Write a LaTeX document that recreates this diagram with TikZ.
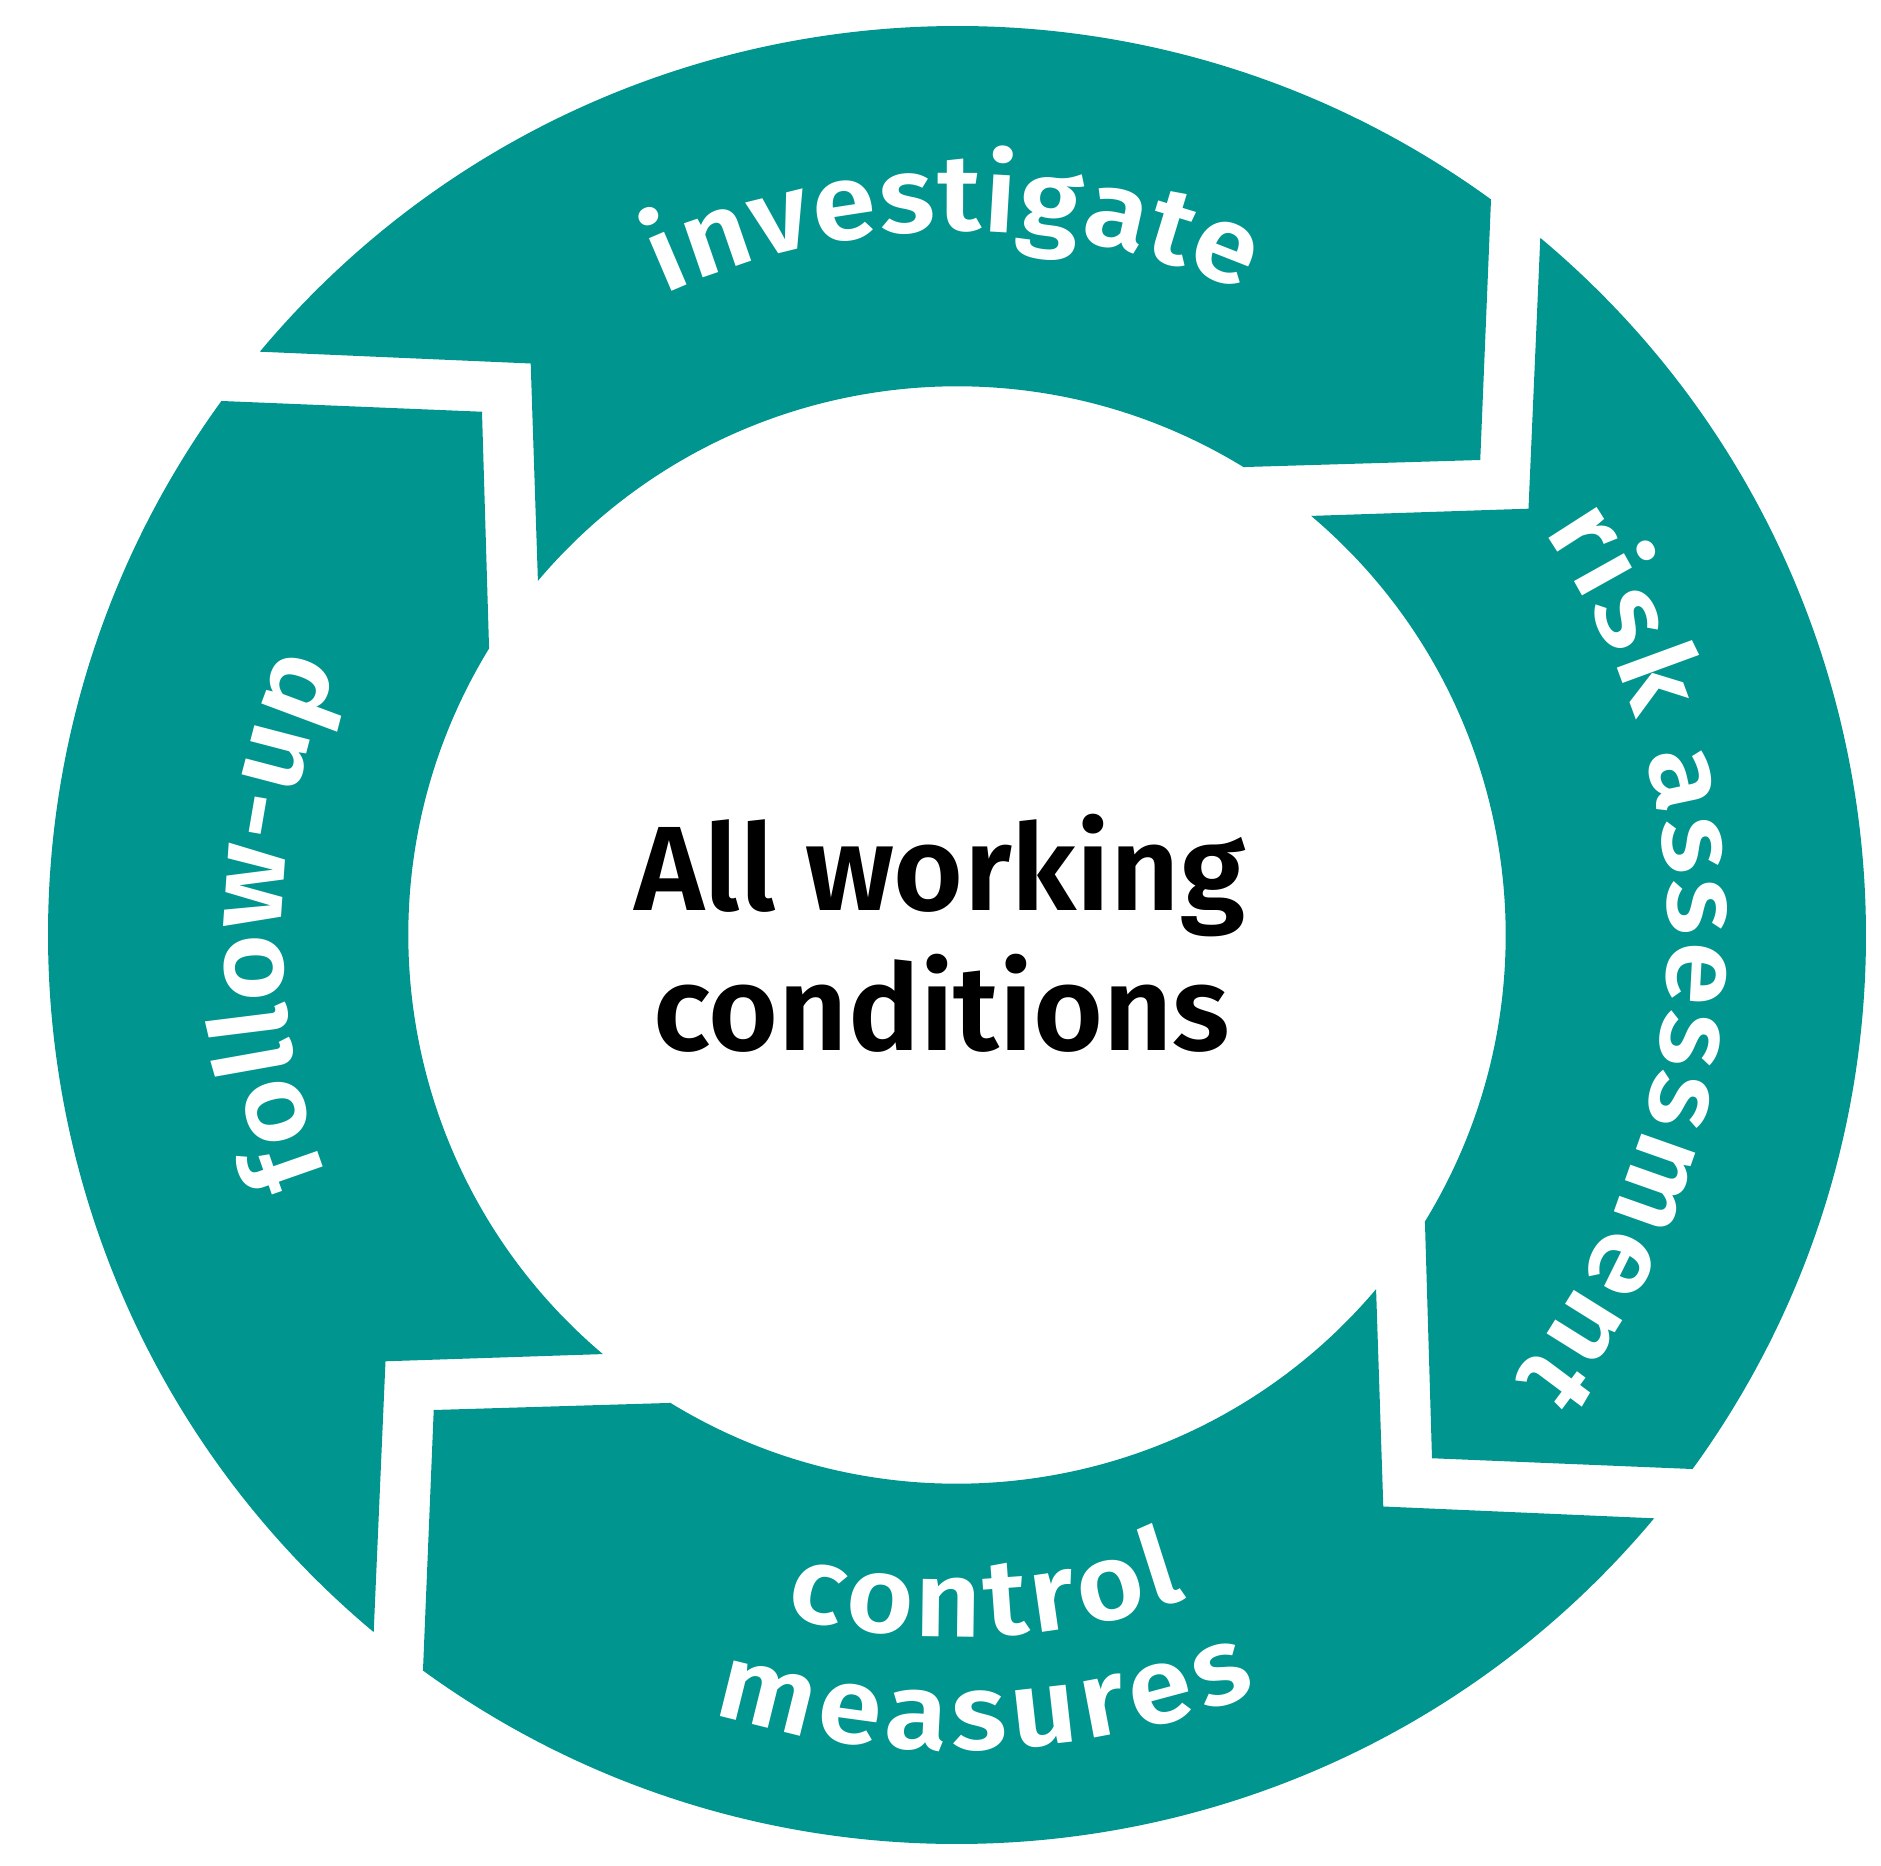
\documentclass[tikz,border=0pt]{standalone}
\usepackage{fontspec}
\usetikzlibrary{decorations.text}
\newfontfamily\ringface{Fira Sans SemiBold}[FakeStretch=1.07, Ligatures=NoCommon]
\newfontfamily\centerface{Fira Sans SemiBold}[Ligatures=NoCommon]
\definecolor{ringteal}{RGB}{0,150,143}
\newcommand\ringfont{\ringface\fontsize{108}{108}\selectfont}
\newcommand\centerfont{\centerface\fontsize{120}{120}\selectfont}
\begin{document}
\begin{tikzpicture}[x=1pt,y=1pt,
  seg/.style={fill=ringteal},
  ringtext/.style={decorate, decoration={text along path, text align={fit to path}, text color=white, text={#1}}},
  ctext/.style={font=\centerfont, text=black, inner sep=0pt, anchor=base}]
\useasboundingbox (-957,-930) rectangle (924,935);
% four ring segments (rotated copies)
\foreach \r in {0,-90,-180,-270}{
  \begin{scope}[rotate=\r]
    \fill[seg] (140.08:909pt) arc[start angle=140.08, end angle=54.02, radius=909pt]
      -- (523.25,475) -- (58.52:548.7pt)
      arc[start angle=58.52, end angle=139.8, radius=548.7pt]
      -- (-426.3,571.5) -- cycle;
  \end{scope}
}
% ring labels
\path[ringtext={|\ringfont|investigate}] (114.5:704pt) arc[start angle=114.5, end angle=66, radius=704pt];
\path[ringtext={|\ringfont|risk assessment}] (34.5:712pt) arc[start angle=34.5, end angle=-38.5, radius=712pt];
\path[ringtext={|\ringfont|control}] (255.8:702pt) arc[start angle=255.8, end angle=289.1, radius=702pt];
\path[ringtext={|\ringfont|measures}] (252.6:815pt) arc[start angle=252.6, end angle=291.6, radius=815pt];
\path[ringtext={|\ringfont|follow-up}] (201:675pt) arc[start angle=201, end angle=156.6, radius=675pt];
% centre text
\node[ctext] (line1) at (-17,24) {All working};
\node[ctext] (line2) at (-15,-115) {conditions};
\end{tikzpicture}
\end{document}
